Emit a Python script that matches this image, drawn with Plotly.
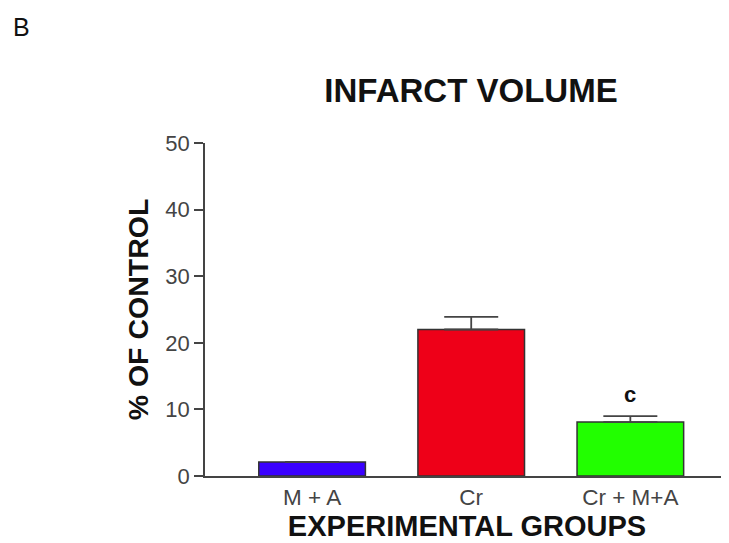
import plotly.graph_objects as go

categories = ["M + A", "Cr", "Cr + M+A"]
values = [2.1, 22.0, 8.1]
errors_up = [0.0, 1.9, 0.9]
colors = ["#3a00ff", "#ee0018", "#22ff00"]
y_ticks = [0, 10, 20, 30, 40, 50]
sig_labels = ["", "", "c"]

# page has ~8px body offset; figure is sized to fill the remaining window
W, H = 721, 535
L, R, T, B = 197, 0, 135, 67
PW, PH = W - L - R, H - T - B

fig = go.Figure()
fig.add_trace(go.Bar(
    x=categories, y=values,
    marker=dict(color=colors, line=dict(color="#333333", width=1.5)),
    width=0.67,
    error_y=dict(type="data", symmetric=False, array=errors_up,
                 arrayminus=[0, 0, 0], color="#444444", thickness=1.8, width=27),
    showlegend=False,
))

for c, v, e, s in zip(categories, values, errors_up, sig_labels):
    if s:
        fig.add_annotation(x=c, y=v + e, text="<b>%s</b>" % s, showarrow=False,
                           yshift=22, font=dict(size=22, color="#111111",
                                                family="Liberation Sans, Arial"))

fig.add_annotation(x=(3 - L) / PW, y=1 + (T - 3) / PH, xref="paper", yref="paper",
                   text="B", showarrow=False, xanchor="left", yanchor="top",
                   font=dict(size=25, color="#111111"))

fig.update_layout(
    width=W, height=H,
    margin=dict(l=L, r=R, t=T, b=B),
    paper_bgcolor="white", plot_bgcolor="white",
    font=dict(family="Liberation Sans, Arial", color="#111111"),
    title=dict(text="<b>INFARCT VOLUME</b>", x=(471 - 8) / W, xanchor="center",
               y=1 - (90 - 8) / H, yanchor="middle",
               font=dict(size=33, color="#111111")),
)
fig.update_xaxes(
    range=[-0.673, 2.62], showline=True, linecolor="#444444", linewidth=1.5,
    ticks="", tickfont=dict(size=22.5, color="#444444"),
    title=dict(text="<b>EXPERIMENTAL GROUPS</b>", font=dict(size=29, color="#111111"),
               standoff=2),
    showgrid=False, zeroline=False,
)
fig.update_yaxes(
    range=[0, 50], tickvals=y_ticks, showline=True, linecolor="#444444", linewidth=1.5,
    ticks="outside", ticklen=9, tickwidth=1.5, tickcolor="#444444",
    tickfont=dict(size=22, color="#444444"),
    title=dict(text="<b>% OF CONTROL</b>", font=dict(size=28.5, color="#111111"),
               standoff=8),
    showgrid=False, zeroline=False,
)

fig.write_html("out.html")
